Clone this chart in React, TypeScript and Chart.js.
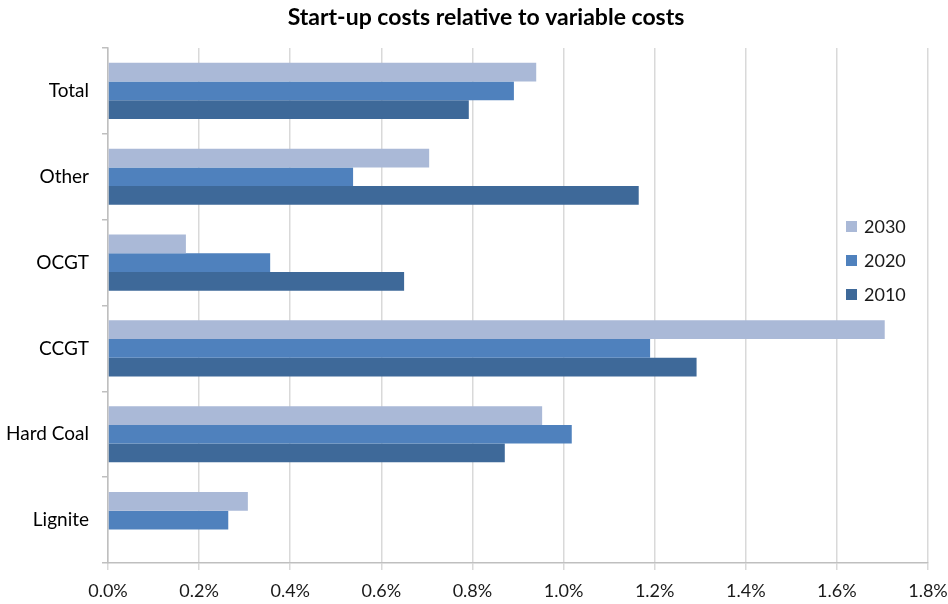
import React, { useEffect, useRef } from "react";
import { Chart, registerables } from "chart.js";

Chart.register(...registerables);

const title = "Start-up costs relative to variable costs";
const categories = ["Total", "Other", "OCGT", "CCGT", "Hard Coal", "Lignite"];
const seriesNames = ["2030", "2020", "2010"];
const values2030 = [0.94, 0.705, 0.171, 1.705, 0.953, 0.307];
const values2020 = [0.891, 0.538, 0.356, 1.19, 1.018, 0.264];
const values2010 = [0.792, 1.165, 0.65, 1.292, 0.871, null];
const xTicks = [0, 0.2, 0.4, 0.6, 0.8, 1.0, 1.2, 1.4, 1.6, 1.8];
const colors = ["#AAB9D7", "#4F81BD", "#3E6999"];

const FONT = "Lato, 'Open Sans', sans-serif";

const overlayPlugin = {
  id: "overlay",
  afterDraw(chart: any) {
    const ctx = chart.ctx;
    ctx.save();
    // title
    ctx.fillStyle = "#000";
    ctx.font = `bold 23px ${FONT}`;
    ctx.textAlign = "center";
    ctx.textBaseline = "middle";
    ctx.fillText(title, 486, 18);
    // legend
    ctx.font = `18px ${FONT}`;
    ctx.textAlign = "left";
    const ys = [226, 260, 294];
    seriesNames.forEach((name, i) => {
      ctx.fillStyle = colors[i];
      ctx.fillRect(846, ys[i] - 5, 11, 11);
      ctx.fillStyle = "#1a1a1a";
      ctx.fillText(name, 864, ys[i] + 1);
    });
    ctx.restore();
  },
};

export default function App() {
  const ref = useRef<HTMLCanvasElement>(null);
  useEffect(() => {
    if (!ref.current) return;
    const data = [values2030, values2020, values2010];
    const chart = new Chart(ref.current, {
      type: "bar",
      data: {
        labels: categories,
        datasets: seriesNames.map((name, i) => ({
          label: name,
          data: data[i] as any,
          backgroundColor: colors[i],
          borderWidth: 0,
          categoryPercentage: 0.655,
          barPercentage: 1.0,
        })),
      },
      options: {
        indexAxis: "y",
        animation: false,
        responsive: false,
        maintainAspectRatio: false,
        layout: { padding: { top: 48, right: 20, left: 0, bottom: 0 } },
        plugins: {
          legend: { display: false },
          title: { display: false },
          tooltip: { enabled: false },
        },
        scales: {
          x: {
            min: 0,
            max: 1.8,
            afterBuildTicks: (scale: any) => {
              scale.ticks = xTicks.map((v) => ({ value: v }));
            },
            afterFit: (scale: any) => {
              scale.height = 41;
              scale.paddingRight = 0;
              scale.paddingLeft = 0;
            },
            grid: {
              color: "#D9D9D9",
              lineWidth: 1.5,
              tickLength: 7,
              drawTicks: true,
            },
            border: { display: true, color: "#BFBFBF", width: 1.5 },
            ticks: {
              color: "#1a1a1a",
              font: { family: FONT, size: 18 },
              padding: 10,
              callback: (v: any) => Number(v).toFixed(1) + "%",
            },
          },
          y: {
            afterFit: (scale: any) => {
              scale.width = 108;
            },
            grid: {
              offset: true,
              drawOnChartArea: false,
              color: "#BFBFBF",
              tickLength: 6,
              lineWidth: 1.5,
            },
            border: { display: true, color: "#BFBFBF", width: 1.5 },
            ticks: {
              color: "#000",
              font: { family: FONT, size: 19 },
              padding: 13,
            },
          },
        },
      },
      plugins: [overlayPlugin],
    });
    return () => chart.destroy();
  }, []);
  return (
    <div style={{ position: "fixed", left: 0, top: 0, width: 948, height: 604, background: "#fff" }}>
      <canvas ref={ref} width={948} height={604} style={{ width: 948, height: 604 }} />
    </div>
  );
}
